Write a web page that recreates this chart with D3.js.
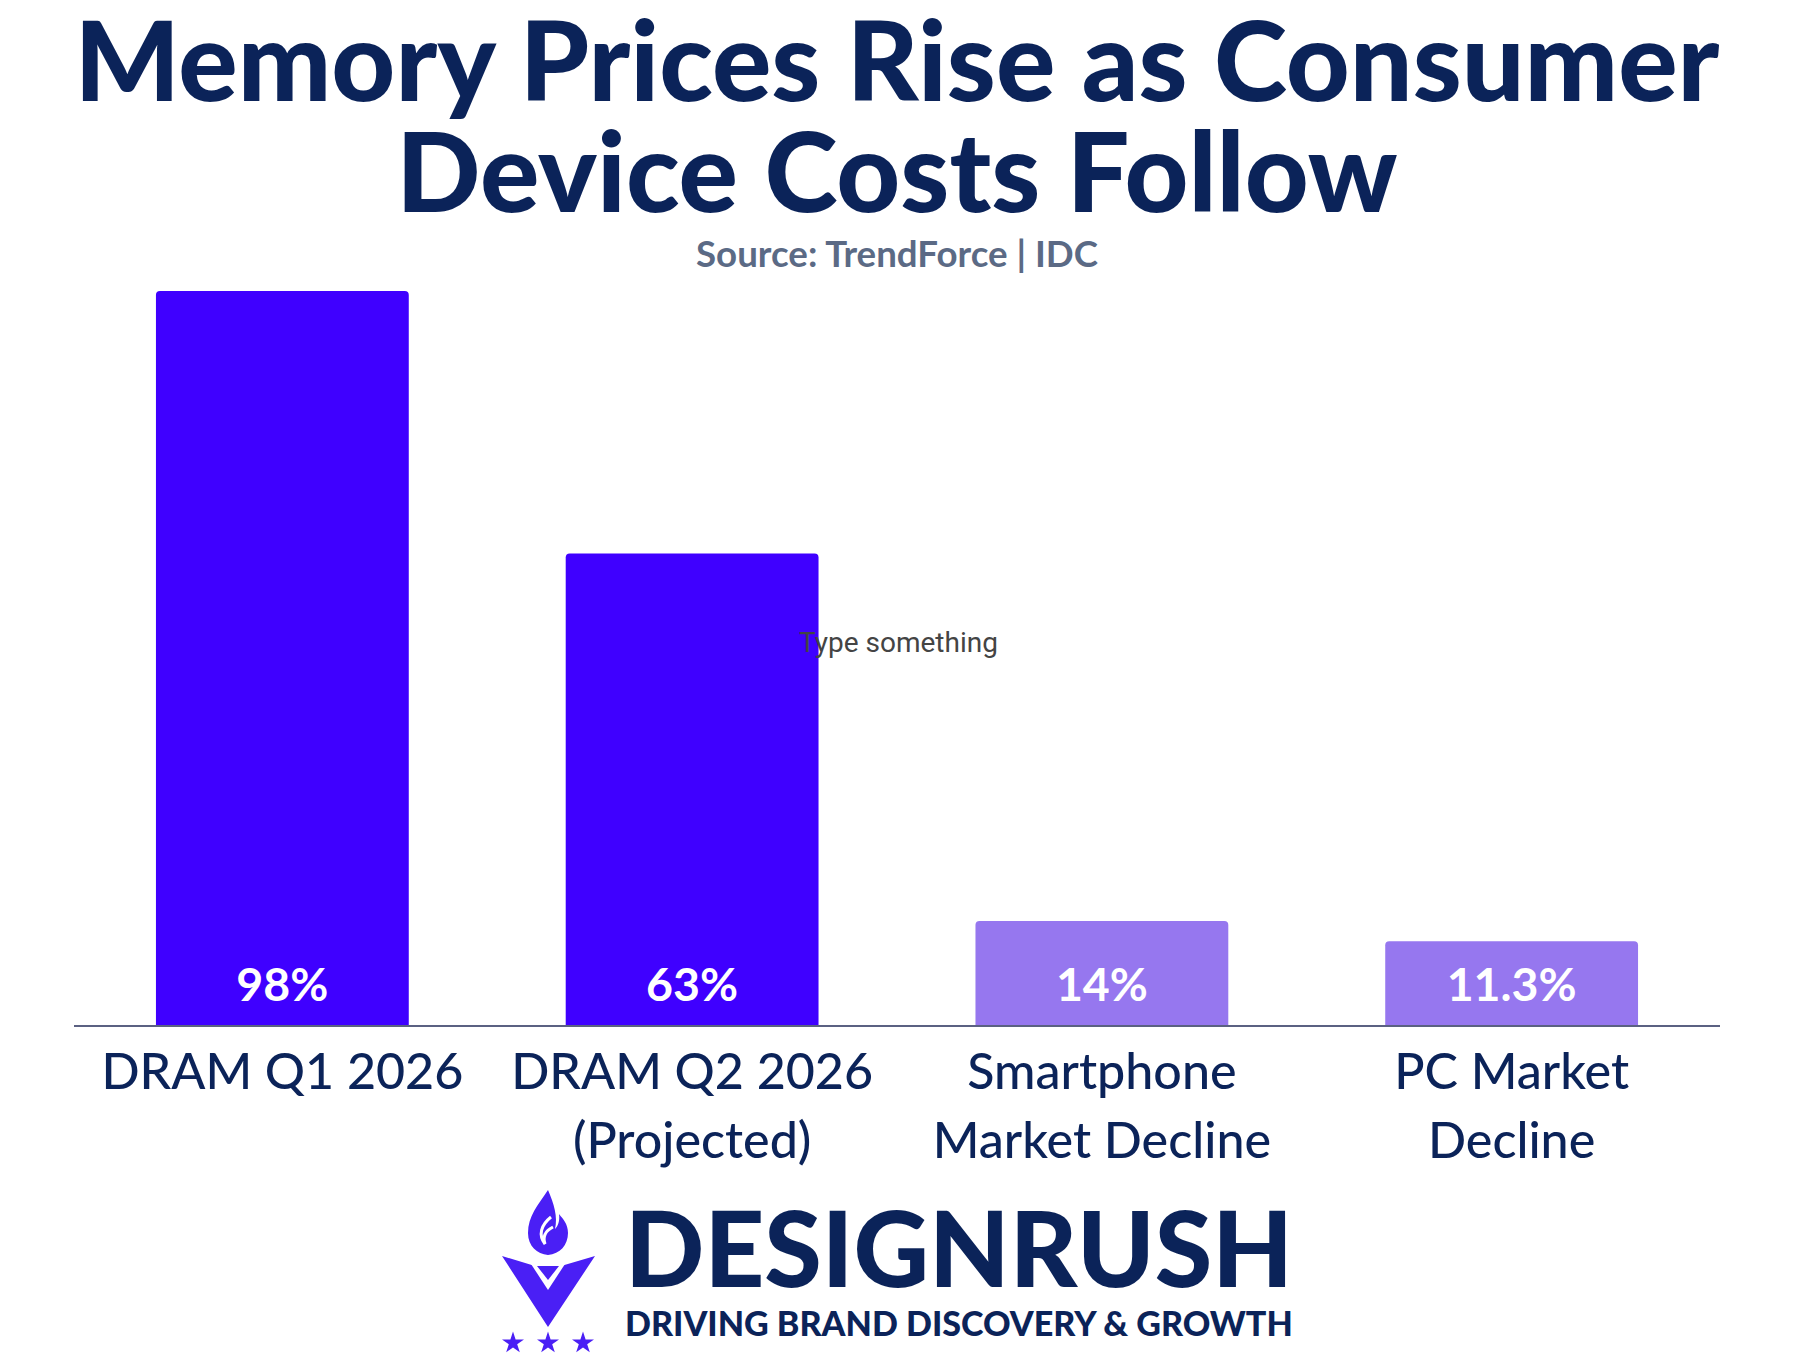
<!DOCTYPE html>
<html>
<head>
<meta charset="utf-8">
<script src="https://cdn.jsdelivr.net/npm/d3@7"></script>
<style>
  body { margin: 0; background: #fff; }
  svg { display: block; }
</style>
</head>
<body>
<svg id="chart"></svg>
<script>
const categories = [
    ["DRAM Q1 2026"],
    ["DRAM Q2 2026", "(Projected)"],
    ["Smartphone", "Market Decline"],
    ["PC Market", "Decline"]
];
const values = [98, 63, 14, 11.3];
const valueLabels = ["98%", "63%", "14%", "11.3%"];
const barColors = ["#3f00ff", "#3f00ff", "#9677ef", "#9677ef"];

const width = 1794;
const height = 1356;
const navy = "#0b2359";
const font = "Lato, 'Open Sans', sans-serif";

const svg = d3.select("#chart")
    .attr("width", width)
    .attr("height", height);

// scale font-size so text matches a measured width
const fitText = (sel, target) => {
    const w = sel.node().getComputedTextLength();
    const size = parseFloat(sel.attr("font-size"));
    const newSize = size * target / w;
    sel.attr("font-size", newSize);
    return newSize;
};

// title
const t1 = svg.append("text")
    .text("Memory Prices Rise as Consumer")
    .attr("x", width / 2).attr("y", 101)
    .attr("text-anchor", "middle")
    .attr("font-family", font).attr("font-weight", 900)
    .attr("font-size", 100).attr("fill", navy);
const titleSize = fitText(t1, 1645);

svg.append("text")
    .text("Device Costs Follow")
    .attr("x", width / 2).attr("y", 212)
    .attr("text-anchor", "middle")
    .attr("font-family", font).attr("font-weight", 900)
    .attr("font-size", titleSize).attr("fill", navy);

const sub = svg.append("text")
    .text("Source: TrendForce | IDC")
    .attr("x", width / 2).attr("y", 267)
    .attr("text-anchor", "middle")
    .attr("font-family", font).attr("font-weight", 700)
    .attr("font-size", 32).attr("fill", "#5b6a85");
fitText(sub, 402);

// chart
const x = d3.scaleBand()
    .domain(d3.range(values.length))
    .range([74, 1720])
    .paddingInner(0.383)
    .paddingOuter(0.2);

const y = d3.scaleLinear()
    .domain([0, d3.max(values)])
    .range([1026, 291]);

const r = 4;
const barPath = (i) => {
    const x0 = x(i), x1 = x(i) + x.bandwidth();
    const y0 = y(values[i]), yb = y(0);
    return `M${x0},${yb} L${x0},${y0 + r} Q${x0},${y0} ${x0 + r},${y0} ` +
           `L${x1 - r},${y0} Q${x1},${y0} ${x1},${y0 + r} L${x1},${yb} Z`;
};

svg.selectAll(".bar")
    .data(values)
    .enter()
    .append("path")
    .attr("class", "bar")
    .attr("d", (d, i) => barPath(i))
    .attr("fill", (d, i) => barColors[i]);

svg.append("line")
    .attr("x1", x.range()[0]).attr("x2", x.range()[1])
    .attr("y1", y(0)).attr("y2", y(0))
    .attr("stroke", "#5b6182").attr("stroke-width", 2);

const vl = svg.selectAll(".value")
    .data(valueLabels)
    .enter()
    .append("text")
    .attr("class", "value")
    .text(d => d)
    .attr("x", (d, i) => x(i) + x.bandwidth() / 2)
    .attr("y", y(0) - 25)
    .attr("text-anchor", "middle")
    .attr("font-family", font).attr("font-weight", 700)
    .attr("font-size", 46).attr("fill", "#fff");
const valueSize = fitText(d3.select(vl.nodes()[0]), 92);
vl.attr("font-size", valueSize);

const cl = svg.selectAll(".cat")
    .data(categories)
    .enter()
    .append("text")
    .attr("class", "cat")
    .attr("text-anchor", "middle")
    .attr("font-family", font).attr("font-weight", 500)
    .attr("font-size", 50).attr("fill", navy);
cl.selectAll("tspan")
    .data((d, i) => d.map(line => ({ line, i })))
    .enter()
    .append("tspan")
    .text(d => d.line)
    .attr("x", d => x(d.i) + x.bandwidth() / 2)
    .attr("y", (d, j) => 1089 + j * 69);
const catSize = fitText(d3.select(cl.nodes()[0]), 362);
cl.attr("font-size", catSize);

// stray text box left in the source
svg.append("text")
    .text("Type something")
    .attr("x", 799).attr("y", 652)
    .attr("font-family", "Roboto, sans-serif")
    .attr("font-size", 28).attr("fill", "#444");

// logo
const logo = svg.append("g").attr("transform", "translate(495,1180)");
const purple = "#4a1ff5";
logo.append("path")
    .attr("d", "M53,10 C43,25 33,36 33,53 C33,66 42,74 53,75 C65,74 73,65 73,53 C73,44 68,39 64,34 C65,41 63,46 60,49 C63,37 59,24 53,10 Z")
    .attr("fill", purple);
logo.append("path")
    .attr("d", "M56,37 C46,45 43,55 50,64 C47,55 52,50 58,47")
    .attr("fill", "none").attr("stroke", "#fff").attr("stroke-width", 3);
logo.append("path")
    .attr("d", "M7,76 L40,86 L53,84 L66,86 L100,76 L53,147 Z")
    .attr("fill", purple);
logo.append("path")
    .attr("d", "M36,84 L70,84 L53,110 Z")
    .attr("fill", "#fff");
logo.append("path")
    .attr("d", "M42,86 L64,86 L53,100 Z")
    .attr("fill", purple);
const star = d3.symbol().type(d3.symbolStar).size(150);
[18, 53, 88].forEach(cx => {
    logo.append("path")
        .attr("d", star())
        .attr("transform", `translate(${cx},163)`)
        .attr("fill", purple);
});

const brand = svg.append("text")
    .text("DESIGNRUSH")
    .attr("x", 625).attr("y", 1287)
    .attr("font-family", font).attr("font-weight", 900)
    .attr("font-size", 95).attr("fill", navy);
fitText(brand, 668);

const tag = svg.append("text")
    .text("DRIVING BRAND DISCOVERY & GROWTH")
    .attr("x", 625).attr("y", 1336)
    .attr("font-family", font).attr("font-weight", 900)
    .attr("font-size", 33).attr("fill", navy);
fitText(tag, 668);
</script>
</body>
</html>
